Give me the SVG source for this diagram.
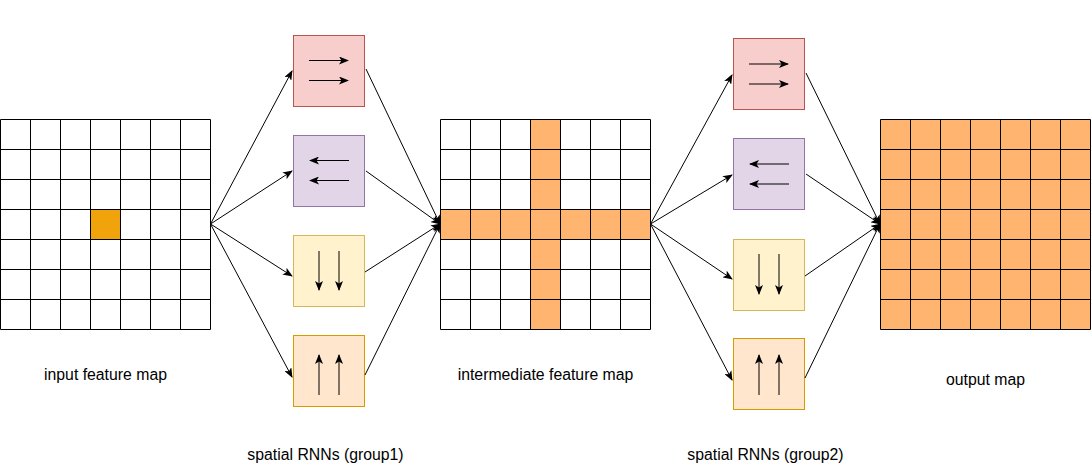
<svg xmlns="http://www.w3.org/2000/svg" width="1091" height="473" viewBox="0 0 1091 473">
<style>
.grid{fill:none;stroke:#000;stroke-width:1}
.lbl{font-family:"Liberation Sans",Arial,Helvetica,sans-serif;font-size:15.8px;fill:#000;text-anchor:middle}
.conn{stroke:#000;stroke-width:1;fill:none}
.inner{stroke:#000;stroke-width:1;fill:none}
.red{fill:#f8cecc;stroke:#b85450}
.purple{fill:#e1d5e7;stroke:#9673a6}
.yellow{fill:#fff2cc;stroke:#d6b656}
.orange{fill:#ffe6cc;stroke:#d79b00}
.hot{fill:#ffb570}
</style>
<defs>
<marker id="arr" viewBox="0 0 10 8" refX="9" refY="4" markerWidth="10" markerHeight="8" markerUnits="userSpaceOnUse" orient="auto">
<path d="M0,0 L10,4 L0,8 L2.5,4 Z" fill="#000"/>
</marker>
<path id="gridlines" class="grid" d="M0.5,0.5H210.5V210.5H0.5Z M30.5,0.5V210.5 M60.5,0.5V210.5 M90.5,0.5V210.5 M120.5,0.5V210.5 M150.5,0.5V210.5 M180.5,0.5V210.5 M0.5,30.5H210.5 M0.5,60.5H210.5 M0.5,90.5H210.5 M0.5,120.5H210.5 M0.5,150.5H210.5 M0.5,180.5H210.5"/>
</defs>
<rect width="1091" height="473" fill="#fff"/>

<g id="input-map">
<rect x="0.5" y="119.5" width="210" height="210" fill="#fff"/>
<rect x="90.5" y="209.5" width="30" height="30" fill="#f0a30a" stroke="#bd7000"/>
<use href="#gridlines" x="0" y="119"/>
<text class="lbl" x="105.5" y="379.5">input feature map</text>
</g>

<g id="intermediate-map">
<rect x="440.5" y="119.5" width="210" height="210" fill="#fff"/>
<rect class="hot" x="530.5" y="119.5" width="30" height="210"/>
<rect class="hot" x="440.5" y="209.5" width="210" height="30"/>
<use href="#gridlines" x="440" y="119"/>
<text class="lbl" x="545.5" y="379.5">intermediate feature map</text>
</g>

<g id="output-map">
<rect class="hot" x="880.5" y="119.5" width="210" height="210"/>
<use href="#gridlines" x="880" y="119"/>
<text class="lbl" x="985.5" y="385">output map</text>
</g>

<g id="g1-right">
<rect class="red" x="293.5" y="35.5" width="71" height="71"/>
<path class="inner" d="M309,60.5H348" marker-end="url(#arr)"/>
<path class="inner" d="M309,80.5H348" marker-end="url(#arr)"/>
</g>
<g id="g1-left">
<rect class="purple" x="293.5" y="135.5" width="71" height="71"/>
<path class="inner" d="M349,160.5H310" marker-end="url(#arr)"/>
<path class="inner" d="M349,180.5H310" marker-end="url(#arr)"/>
</g>
<g id="g1-down">
<rect class="yellow" x="293.5" y="235.5" width="71" height="71"/>
<path class="inner" d="M319,251V290" marker-end="url(#arr)"/>
<path class="inner" d="M339,251V290" marker-end="url(#arr)"/>
</g>
<g id="g1-up">
<rect class="orange" x="293.5" y="335.5" width="71" height="71"/>
<path class="inner" d="M319,395V355" marker-end="url(#arr)"/>
<path class="inner" d="M339,395V355" marker-end="url(#arr)"/>
</g>
<text class="lbl" x="325.5" y="460">spatial RNNs (group1)</text>

<g id="g2-right">
<rect class="red" x="733.5" y="38.5" width="71" height="71"/>
<path class="inner" d="M749,64H788" marker-end="url(#arr)"/>
<path class="inner" d="M749,84H788" marker-end="url(#arr)"/>
</g>
<g id="g2-left">
<rect class="purple" x="733.5" y="138.5" width="71" height="71"/>
<path class="inner" d="M789,164H750" marker-end="url(#arr)"/>
<path class="inner" d="M789,184H750" marker-end="url(#arr)"/>
</g>
<g id="g2-down">
<rect class="yellow" x="733.5" y="239.5" width="71" height="71"/>
<path class="inner" d="M759,254V294" marker-end="url(#arr)"/>
<path class="inner" d="M779,254V294" marker-end="url(#arr)"/>
</g>
<g id="g2-up">
<rect class="orange" x="733.5" y="338.5" width="71" height="71"/>
<path class="inner" d="M759,395V355" marker-end="url(#arr)"/>
<path class="inner" d="M779,395V355" marker-end="url(#arr)"/>
</g>
<text class="lbl" x="765.5" y="460">spatial RNNs (group2)</text>

<g id="connectors">
<path class="conn" d="M210.5,224L292,71" marker-end="url(#arr)"/>
<path class="conn" d="M210.5,224L292,171" marker-end="url(#arr)"/>
<path class="conn" d="M210.5,224L292,276" marker-end="url(#arr)"/>
<path class="conn" d="M210.5,224L292,377" marker-end="url(#arr)"/>
<path class="conn" d="M366,69L440,224" marker-end="url(#arr)"/>
<path class="conn" d="M366,171L440,224" marker-end="url(#arr)"/>
<path class="conn" d="M365,272L440,224" marker-end="url(#arr)"/>
<path class="conn" d="M365,375L440,224" marker-end="url(#arr)"/>
<path class="conn" d="M650.5,224L732,75" marker-end="url(#arr)"/>
<path class="conn" d="M650.5,224L732,175" marker-end="url(#arr)"/>
<path class="conn" d="M650.5,224L732,279" marker-end="url(#arr)"/>
<path class="conn" d="M650.5,224L732,380" marker-end="url(#arr)"/>
<path class="conn" d="M806,73L880,224" marker-end="url(#arr)"/>
<path class="conn" d="M806,174L880,224" marker-end="url(#arr)"/>
<path class="conn" d="M805,276L880,224" marker-end="url(#arr)"/>
<path class="conn" d="M805,378L880,224" marker-end="url(#arr)"/>
</g>
</svg>
